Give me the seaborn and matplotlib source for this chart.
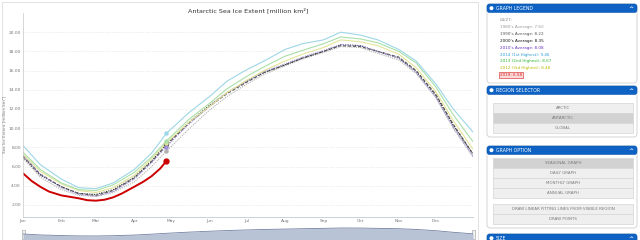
import numpy as np
import pandas as pd
import matplotlib
matplotlib.use("Agg")
import matplotlib.pyplot as plt
import matplotlib.dates as mdates
from matplotlib.patches import FancyBboxPatch, Rectangle, Circle
import seaborn as sns

# ---------------- data ----------------
day_labels = ["01-01", "01-15", "02-01", "02-15", "03-01", "03-15", "04-01", "04-15",
              "04-27", "05-15", "06-01", "06-15", "07-01", "07-15", "08-01", "08-15",
              "09-01", "09-15", "10-01", "10-15", "11-01", "11-15", "12-01", "12-15", "12-31"]
avg_1980s = [6.9, 4.9, 3.6, 3.0, 2.9, 3.3, 4.4, 6.0, 7.60, 9.9, 11.9, 13.3, 14.6, 15.6, 16.5,
             17.2, 17.9, 18.5, 18.4, 17.8, 17.1, 15.7, 13.2, 10.0, 7.0]
avg_1990s = [7.1, 5.2, 3.9, 3.2, 3.0, 3.5, 4.8, 6.5, 8.22, 10.5, 12.3, 13.6, 14.8, 15.8, 16.6,
             17.3, 18.0, 18.6, 18.5, 18.0, 17.4, 16.0, 13.5, 10.4, 7.3]
avg_2000s = [7.0, 5.1, 3.9, 3.2, 3.1, 3.6, 4.9, 6.6, 8.35, 10.6, 12.4, 13.7, 14.9, 15.8, 16.6,
             17.3, 18.0, 18.7, 18.6, 18.0, 17.3, 15.9, 13.4, 10.3, 7.3]
avg_2010s = [7.2, 5.2, 3.8, 3.1, 2.9, 3.4, 4.7, 6.4, 8.08, 10.4, 12.3, 13.7, 14.9, 15.9, 16.7,
             17.4, 18.1, 18.7, 18.6, 18.0, 17.3, 15.8, 13.2, 10.1, 7.1]
y2014 = [8.2, 6.2, 4.7, 3.8, 3.7, 4.3, 5.7, 7.4, 9.46, 11.6, 13.3, 14.9, 16.1, 17.0, 18.2,
         18.8, 19.2, 20.0, 19.7, 19.2, 18.2, 17.0, 14.6, 12.0, 9.6]
y2013 = [7.5, 5.7, 4.3, 3.6, 3.5, 4.1, 5.4, 7.0, 8.67, 10.9, 12.6, 14.1, 15.4, 16.4, 17.5,
         18.1, 18.8, 19.5, 19.3, 18.9, 18.0, 16.8, 14.3, 11.4, 8.6]
y2012 = [7.3, 5.5, 4.2, 3.5, 3.3, 3.8, 5.1, 6.8, 8.48, 10.6, 12.3, 13.7, 15.0, 16.0, 17.0,
         17.7, 18.4, 19.2, 19.0, 18.6, 17.7, 16.3, 13.8, 10.8, 7.8]

days_2019 = ["01-01", "01-08", "01-15", "01-22", "02-01", "02-08", "02-15", "02-22", "03-01",
             "03-08", "03-15", "03-22", "04-01", "04-08", "04-15", "04-22", "04-27"]
y2019 = [5.3, 4.5, 3.9, 3.4, 3.0, 2.85, 2.7, 2.5, 2.45, 2.55, 2.8, 3.2, 3.9, 4.4, 5.0, 5.8, 6.58]

current_date = "04-27"
y_ticks = [2, 4, 6, 8, 10, 12, 14, 16, 18, 20]
title = "Antarctic Sea Ice Extent [million km²]"
ylabel = "Sea Ice Extent [million km²]"

legend_lines = [
    ("04/27:", "#888888"),
    ("1980's Average: 7.60", "#9a9a9a"),
    ("1990's Average: 8.22", "#555555"),
    ("2000's Average: 8.35", "#111111"),
    ("2010's Average: 8.08", "#6a2fc4"),
    ("2014 (1st Highest): 9.46", "#2f9bd0"),
    ("2013 (2nd Highest): 8.67", "#2fb52f"),
    ("2012 (3rd Highest): 8.48", "#b8b800"),
]
legend_2019 = "2019: 6.58"
region_buttons = ["ARCTIC", "ANTARCTIC", "GLOBAL"]
option_buttons = ["SEASONAL GRAPH", "DAILY GRAPH", "MONTHLY GRAPH", "ANNUAL GRAPH"]
extra_buttons = ["DRAW LINEAR FITTING LINES FROM VISIBLE REGION", "DRAW POINTS"]

# ---------------- setup ----------------
sns.set_theme(style="white")
plt.rcParams["font.family"] = ["DejaVu Sans"]

W, H = 640, 240
fig = plt.figure(figsize=(6.4, 2.4), dpi=100)
fig.patch.set_facecolor("white")

bg = fig.add_axes([0, 0, 1, 1], zorder=0)
bg.set_xlim(0, W)
bg.set_ylim(H, 0)
bg.axis("off")

def to_dt(lst):
    return pd.to_datetime(["2019-" + d for d in lst])

dts = to_dt(day_labels)
dts19 = to_dt(days_2019)
cur = pd.Timestamp("2019-" + current_date)
ci = day_labels.index(current_date)

# ---------------- main chart ----------------
px_l, px_r, px_t, px_b = 23, 473, 13, 217
ax = fig.add_axes([px_l / W, 1 - px_b / H, (px_r - px_l) / W, (px_b - px_t) / H], zorder=2)
ax.set_facecolor("none")

series = [
    (avg_1980s, "#b0b0b0", (0, (1, 1)), 0.8),
    (avg_1990s, "#606060", (0, (2.5, 1.5)), 0.9),
    (avg_2000s, "#333333", (0, (1, 1.2)), 0.8),
    (avg_2010s, "#a090d8", (0, (1, 1)), 0.8),
    (y2012, "#e4e49a", "-", 0.8),
    (y2013, "#a9dfa9", "-", 0.8),
    (y2014, "#9dd6e6", "-", 0.8),
]
for vals, col, ls, lw in series:
    df = pd.DataFrame({"date": dts, "v": vals})
    sns.lineplot(data=df, x="date", y="v", ax=ax, color=col, linestyle=ls, linewidth=lw)
    ax.plot(cur, vals[ci], "o", color=col, ms=2.2, mec=col, zorder=4)

df19 = pd.DataFrame({"date": dts19, "v": y2019})
sns.lineplot(data=df19, x="date", y="v", ax=ax, color="#cc0000", linewidth=1.4)
ax.plot(dts19[-1], y2019[-1], "o", color="#cc0000", ms=3.5, zorder=5)

ax.set_xlim(pd.Timestamp("2019-01-01"), pd.Timestamp("2019-12-31"))
ax.set_ylim(0.75, 22.0)
ax.set_yticks(y_ticks)
ax.set_yticklabels([f"{t:.2f}" for t in y_ticks])
ax.xaxis.set_major_locator(mdates.MonthLocator())
ax.xaxis.set_major_formatter(mdates.DateFormatter("%b"))
ax.set_xlabel("")
ax.set_ylabel("")
ax.tick_params(axis="both", length=0, labelsize=3.2, colors="#777777", pad=1.5)
ax.grid(axis="y", color="#dcdcdc", linestyle=(0, (1, 1.5)), linewidth=0.5)
ax.grid(axis="x", visible=False)
for s in ["top", "right"]:
    ax.spines[s].set_visible(False)
ax.spines["left"].set_color("#c8c8c8")
ax.spines["left"].set_linewidth(0.5)
ax.spines["bottom"].set_color("#c0cad8")
ax.spines["bottom"].set_linewidth(0.6)

bg.text(248, 10, title, ha="center", va="center", fontsize=4.6, color="#333333")
bg.text(4.5, 124, ylabel, ha="center", va="center", rotation=90, fontsize=3.0, color="#777777")

# chart container border
bg.add_patch(Rectangle((2, 2), 476, 260, fill=False, ec="#dddddd", lw=0.6))

# ---------------- navigator ----------------
nav = fig.add_axes([px_l / W, 0, (px_r - px_l) / W, 14 / H], zorder=1)
nav.fill_between(dts, avg_2000s, -10, color="#b9c3d6", lw=0)
nav.plot(dts, avg_2000s, color="#7382a2", lw=0.6)
nav.set_xlim(pd.Timestamp("2019-01-01"), pd.Timestamp("2019-12-31"))
nav.set_ylim(-4.8, 22.6)
nav.axis("off")
for hx in (px_l, px_r):
    bg.add_patch(Rectangle((hx - 1.5, 230), 3, 9, fc="#f2f2f2", ec="#999999", lw=0.4, zorder=3))

# ---------------- right panel ----------------
def box(y0, y1, label):
    bg.add_patch(FancyBboxPatch((487, y0), 150, y1 - y0, boxstyle="round,pad=0,rounding_size=3",
                                fc="white", ec="#cfcfcf", lw=0.6))
    bg.add_patch(FancyBboxPatch((487, y0), 150, 8.5, boxstyle="round,pad=0,rounding_size=2.5",
                                fc="#0d62c4", ec="#0a55ad", lw=0.4))
    bg.add_patch(Circle((491.5, y0 + 4.2), 2.0, fc="white", ec="none"))
    bg.text(496, y0 + 4.4, label, ha="left", va="center", fontsize=3.3, color="white")
    bg.text(631, y0 + 4.6, "^", ha="center", va="center", fontsize=4.5, color="white",
            fontweight="bold")

def button(y0, y1, label, selected=False):
    fc = "#d2d2d2" if selected else "#efefef"
    bg.add_patch(Rectangle((493, y0), 140, y1 - y0, fc=fc, ec="#d6d6d6", lw=0.5))
    bg.text(563, (y0 + y1) / 2 + 0.3, label, ha="center", va="center", fontsize=2.9,
            color="#7a7a7a")

box(4, 83, "GRAPH LEGEND")
ys = [20, 27.3, 34, 41.2, 48, 54.7, 61.3, 68]
for (txt, col), yy in zip(legend_lines, ys):
    bg.text(500, yy, txt, ha="left", va="center", fontsize=3.0, color=col)
bg.text(500, 74.7, legend_2019, ha="left", va="center", fontsize=3.0, color="#dd2222",
        bbox=dict(boxstyle="square,pad=0.25", fc="#f9d9d9", ec="#dd4444", lw=0.5))

box(86, 137, "REGION SELECTOR")
for i, lab in enumerate(region_buttons):
    button(103 + i * 10, 113 + i * 10, lab, selected=(lab == "ANTARCTIC"))

box(146, 228, "GRAPH OPTION")
for i, lab in enumerate(option_buttons):
    button(158 + i * 10, 168 + i * 10, lab, selected=(lab == "SEASONAL GRAPH"))
for i, lab in enumerate(extra_buttons):
    button(203.5 + i * 10, 213.5 + i * 10, lab)

box(234, 262, "SIZE")

fig.savefig("out.png", dpi=100, facecolor="white")
